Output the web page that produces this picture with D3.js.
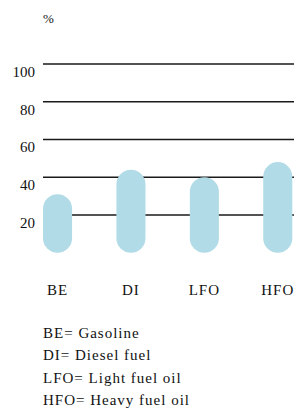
<!DOCTYPE html>
<html>
<head>
<meta charset="utf-8">
<script src="https://d3js.org/d3.v7.min.js"></script>
<style>
  body { margin: 0; background: #fff; }
</style>
</head>
<body>
<div id="chart"></div>
<script>
// data
const fuels = ["BE", "DI", "LFO", "HFO"];
const lowValues = [0, 0, 0, 0];
const highValues = [31, 44, 40, 48];
const yTicks = [20, 40, 60, 80, 100];
const legendLines = ["BE= Gasoline", "DI= Diesel fuel", "LFO= Light fuel oil", "HFO= Heavy fuel oil"];

const serif = "'Liberation Serif', 'Times New Roman', Times, serif";

function drawChart() {
    const width = 294;
    const height = 410;

    const svg = d3.select("#chart").append("svg")
        .attr("width", width)
        .attr("height", height)
        .attr("font-family", serif)
        .style("font-family", serif);

    const y = d3.scaleLinear()
        .domain([0, 100])
        .range([252.7, 64]);

    const x = d3.scaleBand()
        .domain(fuels)
        .range([43, 292.3])
        .paddingInner(0.604)
        .paddingOuter(0);

    // unit label
    svg.append("text")
        .attr("x", 43)
        .attr("y", 22.5)
        .attr("fill", "#111")
        .style("font-size", "13px")
        .text("%");

    // grid lines
    svg.append("g")
        .selectAll("line")
        .data(yTicks)
        .enter()
        .append("line")
        .attr("x1", 43)
        .attr("x2", width)
        .attr("y1", d => y(d))
        .attr("y2", d => y(d))
        .attr("stroke", "#1a1a1a")
        .attr("stroke-width", 1.6);

    // tick labels
    svg.append("g")
        .selectAll("text")
        .data(yTicks)
        .enter()
        .append("text")
        .attr("x", 35)
        .attr("y", d => y(d) + 13)
        .attr("text-anchor", "end")
        .attr("fill", "#111")
        .style("font-size", "15px")
        .text(d => d);

    // bars (rounded)
    const bw = x.bandwidth();
    svg.append("g")
        .selectAll("rect")
        .data(fuels)
        .enter()
        .append("rect")
        .attr("x", d => x(d))
        .attr("width", bw)
        .attr("y", (d, i) => y(highValues[i]))
        .attr("height", (d, i) => y(lowValues[i]) - y(highValues[i]))
        .attr("rx", bw / 2)
        .attr("ry", bw / 2)
        .attr("fill", "#b0dbe7");

    // category labels
    svg.append("g")
        .selectAll("text")
        .data(fuels)
        .enter()
        .append("text")
        .attr("x", d => x(d) + bw / 2)
        .attr("y", 295)
        .attr("text-anchor", "middle")
        .attr("fill", "#111")
        .style("font-size", "15px")
        .style("letter-spacing", "1px")
        .text(d => d);

    // legend
    svg.append("g")
        .selectAll("text")
        .data(legendLines)
        .enter()
        .append("text")
        .attr("x", 43)
        .attr("y", (d, i) => 338 + i * 22.4)
        .attr("fill", "#111")
        .style("font-size", "15px")
        .style("letter-spacing", "1px")
        .text(d => d);
}

drawChart();
</script>
</body>
</html>
